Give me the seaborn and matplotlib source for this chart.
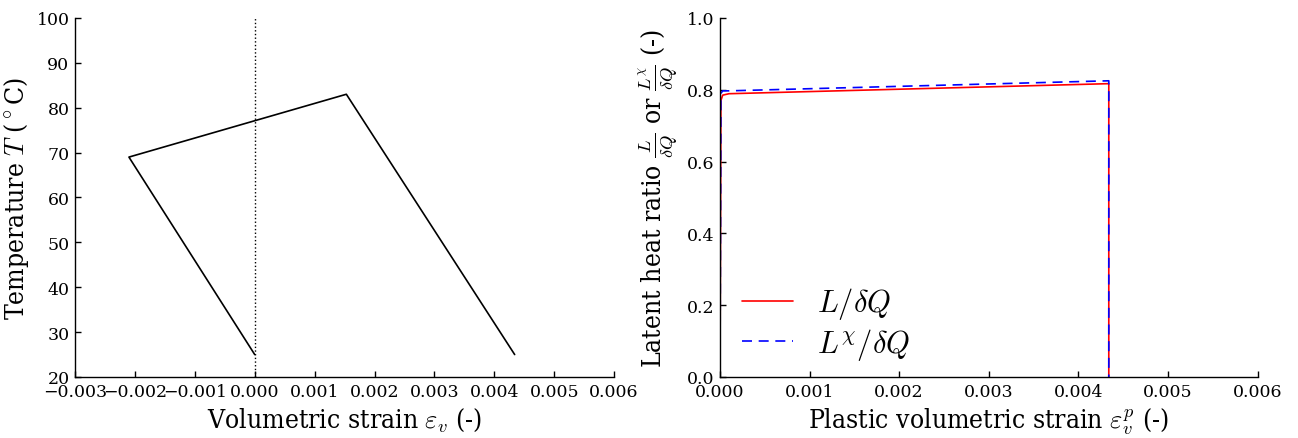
import numpy as np
import pandas as pd
import matplotlib
matplotlib.use("Agg")
import matplotlib.pyplot as plt
import seaborn as sns

# left panel: temperature vs volumetric strain (path)
strain_v = [0.0, -0.0021, 0.00153, 0.00434]
temperature = [25, 69, 83, 25]

# right panel: latent heat ratios vs plastic volumetric strain
strain_p = [0.0, 0.00001, 0.00003, 0.0001, 0.00434, 0.00434]
ratio_L = [0.0, 0.77, 0.785, 0.789, 0.817, 0.0]
ratio_Lchi = [0.0, 0.79, 0.797, 0.797, 0.825, 0.0]

xt_left = np.arange(-0.003, 0.0061, 0.001)
xt_right = np.arange(0, 0.0061, 0.001)
yt_right = np.arange(0, 1.01, 0.2)

sns.set_style("ticks")
plt.rcParams["font.family"] = ["DejaVu Serif"]
plt.rcParams["mathtext.fontset"] = "cm"
plt.rcParams["text.color"] = "black"
plt.rcParams["axes.labelcolor"] = "black"
plt.rcParams["xtick.color"] = "black"
plt.rcParams["ytick.color"] = "black"
plt.rcParams["axes.edgecolor"] = "black"
plt.rcParams["axes.linewidth"] = 1.0

fig = plt.figure(figsize=(12.98, 4.39), dpi=100)
ax1 = fig.add_axes([0.0578, 0.139, 0.4153, 0.8178])
ax2 = fig.add_axes([0.5547, 0.139, 0.4141, 0.8178])

df1 = pd.DataFrame({"x": strain_v, "T": temperature})
sns.lineplot(data=df1, x="x", y="T", sort=False, estimator=None,
             color="black", linewidth=1.2, ax=ax1)
ax1.axvline(0.0, color="black", linestyle=":", linewidth=1.0)
ax1.set_xlim(-0.003, 0.006)
ax1.set_ylim(20, 100)
ax1.set_xticks(xt_left)
ax1.set_xticklabels([("0.000" if abs(v) < 1e-9 else f"{v:.3f}".replace("-", "\u2212")) for v in xt_left])
ax1.set_yticks(range(20, 101, 10))
lab = dict(fontsize=19, fontstretch="condensed")
ax1.set_xlabel(r"Volumetric strain $\varepsilon_v$ (-)", **lab)
ax1.set_ylabel(r"Temperature $T$ ($^\circ$C)", **lab)

df2 = pd.DataFrame({"x": strain_p * 2,
                    "ratio": ratio_L + ratio_Lchi,
                    "series": [r"$L/\delta Q$"] * len(strain_p) + [r"$L^\chi/\delta Q$"] * len(strain_p)})
sns.lineplot(data=df2, x="x", y="ratio", hue="series", style="series",
             sort=False, estimator=None,
             palette=["red", "blue"], dashes=[(None, None), (6, 4)],
             linewidth=1.2, ax=ax2)
ax2.set_xlim(0, 0.006)
ax2.set_ylim(0, 1.0)
ax2.set_xticks(xt_right)
ax2.set_xticklabels([f"{v:.3f}" for v in xt_right])
ax2.set_yticks(yt_right)
ax2.set_yticklabels([f"{v:.1f}" for v in yt_right])
ax2.set_xlabel(r"Plastic volumetric strain $\varepsilon_v^p$ (-)", **lab)
ax2.set_ylabel(r"Latent heat ratio $\frac{L}{\delta Q}$ or $\frac{L^\chi}{\delta Q}$ (-)", **lab)
leg = ax2.legend(loc="lower left", bbox_to_anchor=(-0.01, -0.035), frameon=False,
                 fontsize=22, handlelength=1.65, handletextpad=0.8, labelspacing=0.15)
leg.set_title(None)

for ax in (ax1, ax2):
    sns.despine(ax=ax)
    ax.tick_params(labelsize=12.5, length=4, width=1, direction="in", pad=4)
    ax.grid(False)

fig.savefig("out.png", dpi=100)
